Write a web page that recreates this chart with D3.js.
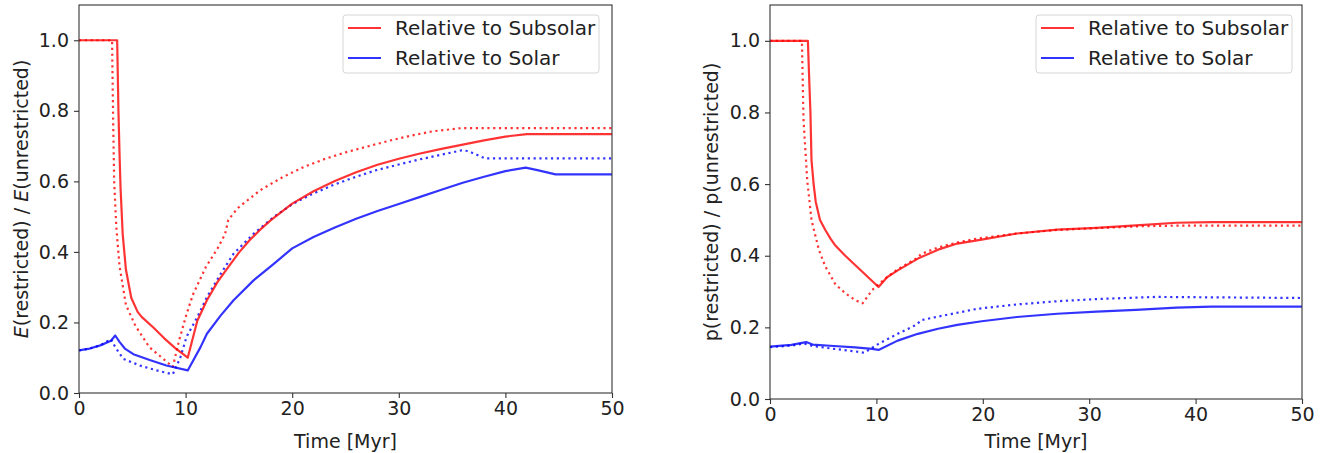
<!DOCTYPE html>
<html>
<head>
<meta charset="utf-8">
<script src="https://cdn.jsdelivr.net/npm/d3@7"></script>
<style>
  body { margin: 0; background: #fff; }
  text { font-family: "DejaVu Sans", sans-serif; fill: #222; }
</style>
</head>
<body>
<script>
// data, time in Myr

var xTicks = [0, 10, 20, 30, 40, 50];
var yTicks = [0, 0.2, 0.4, 0.6, 0.8, 1.0];
var legendLabels = ['Relative to Subsolar', 'Relative to Solar'];

// left panel: E(restricted) / E(unrestricted)
var eSubT = [0, 3.58, 3.7, 3.8, 3.9, 4.1, 4.4, 4.9, 5.5, 5.9, 7.0, 8.0, 9.0, 10.2, 11.1, 12.0, 13.0, 14.0, 15.0, 16.0, 17.0, 18.0, 20.0, 22.0, 24.0, 26.0, 28.0, 30.0, 32.0, 34.0, 36.0, 38.0, 40.0, 42.0, 50];
var eSubV = [1.0, 1.0, 0.8, 0.68, 0.58, 0.45, 0.35, 0.27, 0.23, 0.215, 0.185, 0.155, 0.128, 0.10, 0.205, 0.263, 0.315, 0.357, 0.398, 0.433, 0.463, 0.49, 0.537, 0.572, 0.601, 0.626, 0.647, 0.664, 0.679, 0.692, 0.704, 0.716, 0.727, 0.734, 0.734];
var eSubDotT = [0, 3.1, 3.2, 3.3, 3.5, 3.8, 4.4, 5.3, 6.6, 7.9, 8.8, 9.4, 10.1, 10.7, 11.9, 13.0, 13.7, 14.0, 14.5, 15.0, 17.0, 19.1, 21.1, 23.1, 25.1, 27.2, 29.2, 31.2, 33.2, 35.9, 50];
var eSubDotV = [1.0, 1.0, 0.78, 0.6, 0.47, 0.36, 0.25, 0.19, 0.13, 0.097, 0.074, 0.15, 0.225, 0.28, 0.357, 0.41, 0.45, 0.49, 0.51, 0.527, 0.575, 0.612, 0.641, 0.664, 0.683, 0.70, 0.716, 0.73, 0.742, 0.751, 0.751];
var eSolT = [0, 1, 2, 3, 3.4, 3.8, 4.3, 5.1, 6.7, 8.2, 10.2, 11.4, 12.0, 13.3, 14.5, 16.4, 18.3, 20.0, 22.0, 24.0, 26.0, 28.0, 30.0, 32.0, 34.0, 36.0, 38.0, 40.0, 41.9, 43.0, 44.7, 50];
var eSolV = [0.121, 0.126, 0.135, 0.148, 0.163, 0.145, 0.126, 0.11, 0.093, 0.078, 0.064, 0.13, 0.168, 0.22, 0.263, 0.32, 0.367, 0.41, 0.442, 0.469, 0.494, 0.516, 0.536, 0.556, 0.576, 0.596, 0.613, 0.629, 0.639, 0.632, 0.62, 0.62];
var eSolDotT = [0, 1, 2, 3.0, 3.4, 4.15, 5.7, 7.3, 8.8, 9.5, 10.1, 11.1, 12.0, 13.3, 14.5, 16.4, 18.3, 20.1, 21.8, 23.8, 25.8, 27.8, 29.9, 31.9, 33.9, 35.9, 36.5, 38.1, 50];
var eSolDotV = [0.121, 0.126, 0.135, 0.153, 0.13, 0.097, 0.078, 0.064, 0.053, 0.10, 0.16, 0.215, 0.272, 0.338, 0.395, 0.452, 0.50, 0.537, 0.563, 0.589, 0.611, 0.631, 0.647, 0.662, 0.675, 0.688, 0.686, 0.665, 0.665];

// right panel: p(restricted) / p(unrestricted)
var pSubT = [0, 3.56, 3.7, 3.8, 3.9, 4.1, 4.3, 4.7, 5.2, 5.7, 6.1, 7.0, 8.0, 9.0, 10.2, 11.0, 12.0, 13.9, 15.8, 17.6, 19.9, 23.2, 27.0, 30.7, 34.4, 38.2, 41.5, 50];
var pSubV = [1.0, 1.0, 0.88, 0.8, 0.667, 0.6, 0.55, 0.5, 0.472, 0.447, 0.43, 0.402, 0.374, 0.346, 0.3125, 0.34, 0.359, 0.392, 0.417, 0.434, 0.445, 0.462, 0.473, 0.478, 0.485, 0.492, 0.494, 0.494];
var pSubDotT = [0, 3.0, 3.15, 3.5, 3.9, 4.6, 5.2, 6.15, 7.1, 8.0, 8.7, 9.6, 10.1, 11.0, 12.0, 13.9, 14.2, 15.8, 17.6, 19.5, 23.2, 27.0, 30.7, 34.4, 38.2, 41.5, 50];
var pSubDotV = [1.0, 1.0, 0.78, 0.61, 0.5, 0.416, 0.37, 0.32, 0.295, 0.276, 0.267, 0.304, 0.318, 0.34, 0.362, 0.395, 0.405, 0.423, 0.437, 0.448, 0.462, 0.472, 0.477, 0.482, 0.484, 0.484, 0.484];
var pSolT = [0, 2, 3.4, 4.0, 6, 8, 9.6, 10.2, 12.0, 13.9, 15.8, 17.6, 19.9, 23.2, 27.0, 30.7, 34.4, 38.2, 41.5, 50];
var pSolV = [0.146, 0.151, 0.159, 0.152, 0.148, 0.144, 0.14, 0.137, 0.163, 0.182, 0.196, 0.207, 0.217, 0.229, 0.238, 0.244, 0.249, 0.255, 0.258, 0.258];
var pSolDotT = [0, 2, 3.2, 4, 6, 8, 8.85, 10.2, 12.0, 13.8, 14.2, 15.8, 19.5, 23.2, 27.0, 30.7, 34.4, 36.3, 50];
var pSolDotV = [0.145, 0.149, 0.155, 0.148, 0.14, 0.133, 0.129, 0.154, 0.182, 0.208, 0.22, 0.23, 0.252, 0.264, 0.273, 0.279, 0.283, 0.285, 0.282];

var RED = '#ff0000', BLUE = '#0000ff';

var svg = d3.select('body').append('svg').attr('width', 1322).attr('height', 453);

var zip = function(ts, vs) {
  return ts.map(function(t, i) { return [t, vs[i]]; });
};

// draw one panel
var drawPanel = function(opt) {
  var x = d3.scaleLinear().domain([0, 50]).range([opt.left, opt.right]);
  var y = d3.scaleLinear().domain([0, 1.1]).range([opt.bottom, opt.top]);
  var g = svg.append('g');

  var line = d3.line().x(function(d) { return x(d[0]); }).y(function(d) { return y(d[1]); });

  opt.series.forEach(function(s) {
    g.append('path').datum(zip(s.t, s.v))
      .attr('d', line)
      .attr('fill', 'none')
      .attr('stroke', s.color)
      .attr('stroke-opacity', 0.8)
      .attr('stroke-width', 2.2)
      .attr('stroke-linejoin', 'round')
      .attr('stroke-dasharray', s.dotted ? '2.2,3.6' : null);
  });

  // frame
  g.append('rect')
    .attr('x', opt.left).attr('y', opt.top)
    .attr('width', opt.right - opt.left).attr('height', opt.bottom - opt.top)
    .attr('fill', 'none').attr('stroke', '#333').attr('stroke-width', 1.1);

  var xAxis = g.append('g').attr('transform', 'translate(0,' + opt.bottom + ')')
    .call(d3.axisBottom(x).tickValues(xTicks).tickSize(5).tickPadding(4).tickFormat(d3.format('d')));
  var yAxis = g.append('g').attr('transform', 'translate(' + opt.left + ',0)')
    .call(d3.axisLeft(y).tickValues(yTicks).tickSize(5).tickPadding(5).tickFormat(d3.format('.1f')));
  [xAxis, yAxis].forEach(function(a) {
    a.select('.domain').remove();
    a.selectAll('line').attr('stroke', '#333').attr('stroke-width', 1.1);
    a.selectAll('text').style('font-size', '19px').style('font-family', '"DejaVu Sans", sans-serif').attr('fill', '#222');
  });

  // axis labels
  g.append('text')
    .attr('x', (opt.left + opt.right) / 2).attr('y', 448)
    .attr('text-anchor', 'middle').style('font-size', '19px')
    .text('Time [Myr]');

  var yl = g.append('text')
    .attr('transform', 'translate(' + opt.ylabelX + ',' + (opt.top + opt.bottom) / 2 + ') rotate(-90)')
    .attr('text-anchor', 'middle').style('font-size', '19px');
  opt.ylabel.forEach(function(part) {
    yl.append('tspan').text(part[0]).style('font-style', part[1] ? 'italic' : 'normal');
  });

  // legend
  var lg = g.append('g').attr('transform', 'translate(' + opt.legendX + ',15)');
  lg.append('rect').attr('x', 0).attr('y', 0).attr('width', 256).attr('height', 58).attr('rx', 3)
    .attr('fill', '#fff').attr('fill-opacity', 0.8).attr('stroke', '#d6d6d6').attr('stroke-width', 1);
  legendLabels.forEach(function(lab, i) {
    var yy = 13 + i * 30;
    lg.append('line').attr('x1', 5).attr('x2', 38).attr('y1', yy).attr('y2', yy)
      .attr('stroke', i == 0 ? RED : BLUE).attr('stroke-opacity', 0.8).attr('stroke-width', 2.2);
    lg.append('text').attr('x', 52).attr('y', yy).attr('dy', '0.36em').style('font-size', '20px').text(lab);
  });
};

drawPanel({
  left: 79, right: 612, top: 5, bottom: 393, ylabelX: 28, legendX: 343,
  ylabel: [['E', true], ['(restricted) / ', false], ['E', true], ['(unrestricted)', false]],
  series: [
    {t: eSubDotT, v: eSubDotV, color: RED, dotted: true},
    {t: eSolDotT, v: eSolDotV, color: BLUE, dotted: true},
    {t: eSubT, v: eSubV, color: RED},
    {t: eSolT, v: eSolV, color: BLUE}
  ]
});

drawPanel({
  left: 770, right: 1302, top: 5, bottom: 399, ylabelX: 718, legendX: 1036,
  ylabel: [['p(restricted) / p(unrestricted)', false]],
  series: [
    {t: pSubDotT, v: pSubDotV, color: RED, dotted: true},
    {t: pSolDotT, v: pSolDotV, color: BLUE, dotted: true},
    {t: pSubT, v: pSubV, color: RED},
    {t: pSolT, v: pSolV, color: BLUE}
  ]
});
</script>
</body>
</html>
